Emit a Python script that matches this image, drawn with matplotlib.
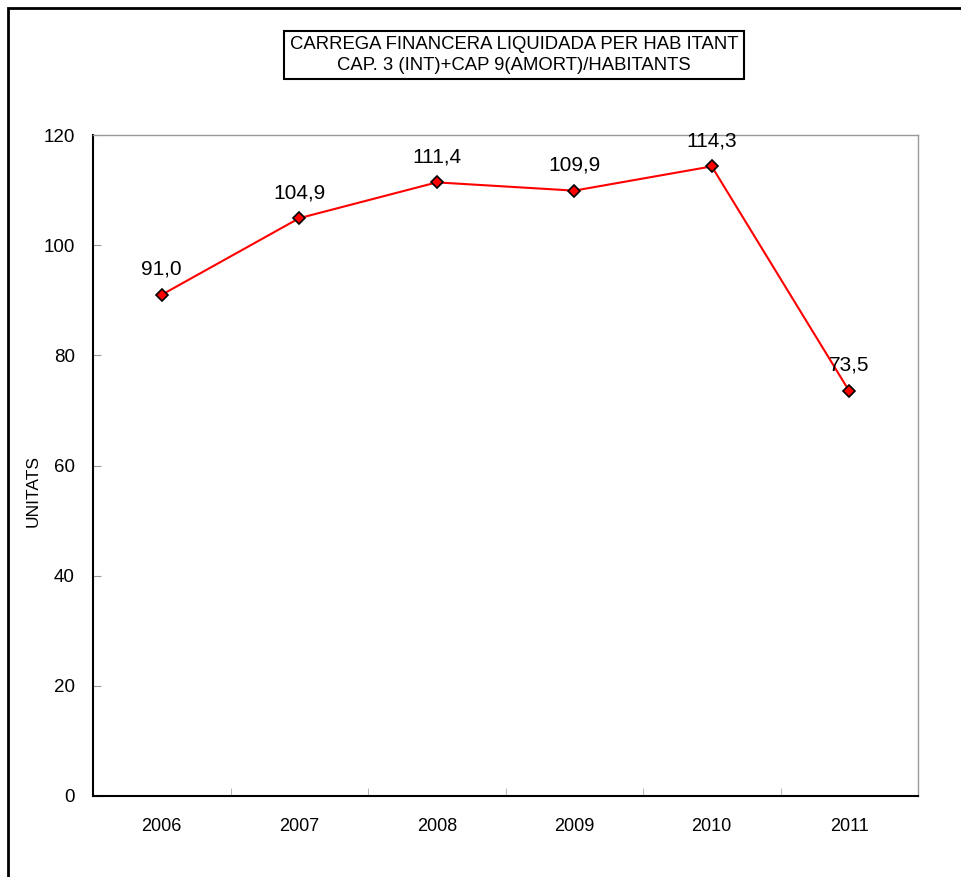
import matplotlib.pyplot as plt
from matplotlib.patches import Rectangle

# Data
years = ['2006', '2007', '2008', '2009', '2010', '2011']
values = [91.0, 104.9, 111.4, 109.9, 114.3, 73.5]
y_ticks = [0, 20, 40, 60, 80, 100, 120]

plt.rcParams['font.family'] = ['Liberation Sans', 'DejaVu Sans']

fig = plt.figure(figsize=(9.61, 8.77), dpi=100)
ax = fig.add_axes([93 / 961, 1 - 796 / 877, (918 - 93) / 961, (796 - 135) / 877])

x = list(range(len(years)))
ax.plot(x, values, color='red', linewidth=1.5, marker='D', markersize=6.5,
        markerfacecolor='red', markeredgecolor='black', markeredgewidth=1.2, zorder=3)

for xi, v in zip(x, values):
    ax.annotate('{:.1f}'.format(v).replace('.', ','), (xi, v), xytext=(0, 14.5),
                textcoords='offset points', ha='center', va='baseline', fontsize=15)

ax.set_xlim(-0.5, len(years) - 0.5)
ax.set_ylim(0, 120)
ax.set_yticks(y_ticks)
ax.set_yticklabels([str(t) for t in y_ticks], fontsize=13.5)
ax.tick_params(axis='y', direction='in', length=6, color='#999999', pad=13)

# category labels centered, tick marks at boundaries
ax.set_xticks(x)
ax.set_xticklabels(years, fontsize=13)
ax.tick_params(axis='x', which='major', length=0, pad=16)
ax.set_xticks([i + 0.5 for i in x[:-1]], minor=True)
ax.tick_params(axis='x', which='minor', direction='in', length=6, color='#aaaaaa')

for side in ['top', 'right']:
    ax.spines[side].set_color('#999999')
    ax.spines[side].set_linewidth(1.0)
for side in ['left', 'bottom']:
    ax.spines[side].set_color('black')
    ax.spines[side].set_linewidth(1.5)

fig.text(33 / 961, 1 - 491 / 877, 'UNITATS', rotation=90, ha='center', va='center', fontsize=12.5)

fig.text(514 / 961, 1 - 55 / 877,
         'CARREGA FINANCERA LIQUIDADA PER HAB ITANT\nCAP. 3 (INT)+CAP 9(AMORT)/HABITANTS',
         ha='center', va='center', fontsize=13.3, linespacing=1.25,
         bbox=dict(boxstyle='square,pad=0.3', facecolor='white', edgecolor='black', linewidth=1.5))

# outer chart frame
fig.patches.append(Rectangle((8 / 961, -0.1), 1.2, 1 - 8 / 877 + 0.1, transform=fig.transFigure,
                             fill=False, edgecolor='black', linewidth=2))

fig.savefig('out.png', dpi=100)
